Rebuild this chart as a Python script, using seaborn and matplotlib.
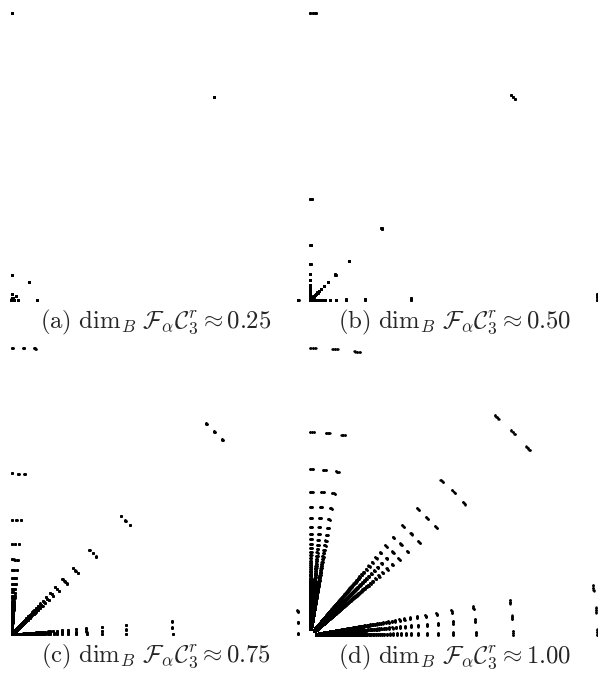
import matplotlib
matplotlib.use('Agg')
import matplotlib.pyplot as plt
import numpy as np
import seaborn as sns

sns.set_style('white')
plt.rcParams['mathtext.fontset'] = 'cm'

# box dimensions from the captions
dims = [0.25, 0.50, 0.75, 1.00]
letters = ['a', 'b', 'c', 'd']
# where the three angular clusters sit inside [0, 90 deg]
cluster_offsets = [0.0, 0.5, 1.0]
# origin of each panel in pixels (x from left, y from top), and outer radius
origins_px = [(11.5, 300), (310, 300), (11.5, 634.5), (310, 635)]
radius_px = 287
n_radii = 2500
levels = 4

W, H = 598, 680
fig = plt.figure(figsize=(W / 100, H / 100), dpi=100)


def cantor_angles(s, levels):
    pts = np.array([0.5])
    for _ in range(levels):
        pts = np.concatenate([s * pts + o * (1 - s) for o in cluster_offsets])
    return pts * np.pi / 2


for i, d in enumerate(dims):
    ox, oy = origins_px[i]
    left = 0 if ox < 100 else 299
    top = 0 if oy < 400 else 336
    w, h = 299, 320
    ax = fig.add_axes([left / W, 1 - (top + h) / H, w / W, h / H])
    ax.set_xlim(-(ox - left) / radius_px, (left + w - ox) / radius_px)
    ax.set_ylim(-(top + h - oy) / radius_px, (oy - top) / radius_px)
    ax.set_axis_off()

    p = 1 / d - 0.5
    s = 3 ** (-2 / d)
    r = np.arange(1, n_radii + 1) ** (-p)
    th = cantor_angles(s, levels)
    R, T = np.meshgrid(r, th)
    x = (R * np.cos(T)).ravel()
    y = (R * np.sin(T)).ravel()
    sns.scatterplot(x=x, y=y, s=2.8, color='black', linewidth=0, ax=ax,
                    clip_on=False, rasterized=True)

    label = (r'$\mathrm{(%s)}\ \dim_B\,\mathcal{F}_\alpha\mathcal{C}_3^r'
             r' \approx %.2f$' % (letters[i], d))
    fig.text((ox + 144) / W, 1 - (oy + 22) / H, label, ha='center',
             va='center', fontsize=17.8)

fig.savefig('out.png', dpi=100, facecolor='white')
